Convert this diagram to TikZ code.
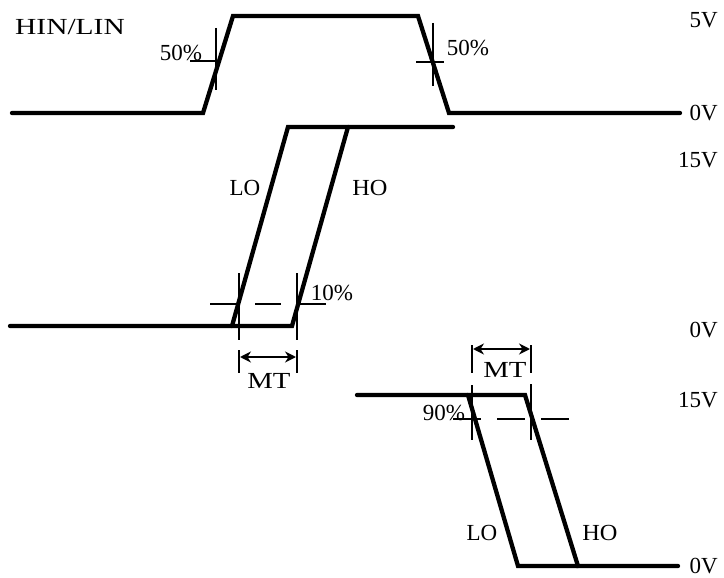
\documentclass[tikz,border=0pt]{standalone}
\usepackage{fontspec}
\setmainfont{Liberation Serif}
\usetikzlibrary{arrows.meta}
\begin{document}
\begin{tikzpicture}[x=1pt,y=-1pt,
  wave/.style={line width=4.3pt, line cap=round, line join=miter},
  tickline/.style={line width=2.8pt},
  dashline/.style={line width=2.5pt, dash pattern=on 26pt off 19pt},
  lbl/.style={font=\fontsize{23}{25}\selectfont, inner sep=0pt},
  mtarrow/.style={line width=2.8pt, {Stealth[length=11pt,width=11pt]}-{Stealth[length=11pt,width=11pt]}}
]
\useasboundingbox (0,0) rectangle (724,578);
% ---------- top waveform HIN/LIN
\coordinate (a0) at (12,113);
\coordinate (a1) at (203,113);
\coordinate (a2) at (233,16);
\coordinate (a3) at (418,16);
\coordinate (a4) at (449,113);
\coordinate (a5) at (680,113);
\draw[wave] (a0) -- (a1) -- (a2) -- (a3) -- (a4) -- (a5);
\coordinate (t1a) at (216,28); \coordinate (t1b) at (216,90);
\coordinate (h1a) at (190,61); \coordinate (h1b) at (218,61);
\draw[tickline] (t1a) -- (t1b);
\draw[tickline] (h1a) -- (h1b);
\coordinate (t2a) at (433,23); \coordinate (t2b) at (433,86);
\coordinate (h2a) at (416,62); \coordinate (h2b) at (444,62);
\draw[tickline] (t2a) -- (t2b);
\draw[tickline] (h2a) -- (h2b);
\node[lbl, xscale=1.28] (hin) at (70,27) {HIN/LIN};
\node[lbl] (p50a) at (181,53) {50\%};
\node[lbl] (p50b) at (468,48) {50\%};
% ---------- middle waveform
\coordinate (b0) at (10,326);
\coordinate (b1) at (232,326);
\coordinate (b2) at (292,326);
\coordinate (b3) at (288,127);
\coordinate (b4) at (348,127);
\coordinate (b5) at (453,127);
\draw[wave] (b0) -- (b2) -- (b4);
\draw[wave] (b1) -- (b3) -- (b5);
\coordinate (m1a) at (239,273); \coordinate (m1b) at (239,340);
\coordinate (m2a) at (297,273); \coordinate (m2b) at (297,340);
\draw[tickline] (m1a) -- (m1b);
\draw[tickline] (m2a) -- (m2b);
\coordinate (d1a) at (210,304); \coordinate (d1b) at (328,304);
\draw[dashline] (d1a) -- (d1b);
\coordinate (k1a) at (239,350); \coordinate (k1b) at (239,373);
\coordinate (k2a) at (297,350); \coordinate (k2b) at (297,373);
\draw[tickline] (k1a) -- (k1b);
\draw[tickline] (k2a) -- (k2b);
\coordinate (ar1a) at (240,357); \coordinate (ar1b) at (296,357);
\draw[mtarrow] (ar1a) -- (ar1b);
\node[lbl, xscale=1.25] (mt1) at (269,381) {MT};
\node[lbl] (p10) at (332,293) {10\%};
\node[lbl] (lo1) at (245,188) {LO};
\node[lbl, xscale=1.06] (ho1) at (370,188) {HO};
% ---------- bottom waveform
\coordinate (c0) at (357,395);
\coordinate (c1) at (468,395);
\coordinate (c2) at (525,395);
\coordinate (c3) at (518,566);
\coordinate (c4) at (578,566);
\coordinate (c5) at (678,566);
\draw[wave] (c0) -- (c2) -- (c4) -- (c5);
\draw[wave] (c1) -- (c3) -- (c4);
\coordinate (n1a) at (472,385); \coordinate (n1b) at (472,440);
\coordinate (n2a) at (531,384); \coordinate (n2b) at (531,440);
\draw[tickline] (n1a) -- (n1b);
\draw[tickline] (n2a) -- (n2b);
\coordinate (d2a) at (453,419); \coordinate (d2b) at (571,419);
\draw[dashline, dash pattern=on 28pt off 16pt] (d2a) -- (d2b);
\coordinate (q1a) at (472,345); \coordinate (q1b) at (472,373);
\coordinate (q2a) at (531,345); \coordinate (q2b) at (531,373);
\draw[tickline] (q1a) -- (q1b);
\draw[tickline] (q2a) -- (q2b);
\coordinate (ar2a) at (473,349); \coordinate (ar2b) at (530,349);
\draw[mtarrow] (ar2a) -- (ar2b);
\node[lbl, xscale=1.25] (mt2) at (505,370) {MT};
\node[lbl] (p90) at (444,413) {90\%};
\node[lbl] (lo2) at (482,533) {LO};
\node[lbl, xscale=1.06] (ho2) at (600,533) {HO};
% ---------- voltage labels
\node[lbl, anchor=east] (v5) at (718,20) {5V};
\node[lbl, anchor=east] (v0a) at (718,113) {0V};
\node[lbl, anchor=east] (v15a) at (718,160) {15V};
\node[lbl, anchor=east] (v0b) at (718,330) {0V};
\node[lbl, anchor=east] (v15b) at (718,400) {15V};
\node[lbl, anchor=east] (v0c) at (718,566) {0V};
\end{tikzpicture}
\end{document}
